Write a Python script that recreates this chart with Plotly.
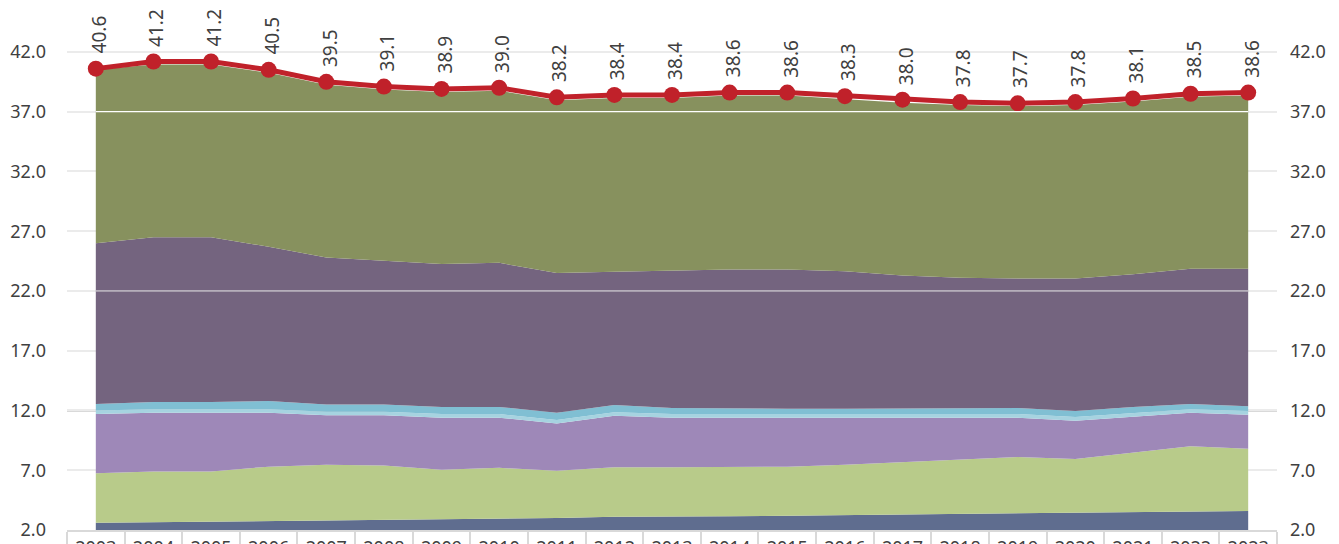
import plotly.graph_objects as go

years = list(range(2003, 2024))
total = [40.6, 41.2, 41.2, 40.5, 39.5, 39.1, 38.9, 39.0, 38.2, 38.4, 38.4,
         38.6, 38.6, 38.3, 38.0, 37.8, 37.7, 37.8, 38.1, 38.5, 38.6]

layer_navy = [2.6, 2.65, 2.7, 2.75, 2.75, 2.8, 2.85, 2.9, 3.0, 3.1, 3.1,
              3.15, 3.2, 3.25, 3.3, 3.35, 3.45, 3.45, 3.5, 3.55, 3.6]
layer_lightgreen = [4.15, 4.25, 4.2, 4.55, 4.7, 4.6, 4.2, 4.3, 3.95, 4.15, 4.15,
                    4.1, 4.1, 4.2, 4.35, 4.55, 4.65, 4.5, 4.95, 5.45, 5.2]
layer_lilac = [4.95, 4.9, 4.9, 4.5, 4.15, 4.2, 4.35, 4.2, 3.95, 4.3, 4.15,
               4.15, 4.1, 3.95, 3.75, 3.5, 3.3, 3.2, 3.05, 2.8, 2.85]
layer_paleblue = [0.3, 0.3, 0.3, 0.3, 0.3, 0.3, 0.3, 0.3, 0.3, 0.3, 0.3,
                  0.3, 0.3, 0.3, 0.3, 0.3, 0.3, 0.3, 0.3, 0.3, 0.3]
layer_cyan = [0.55, 0.6, 0.6, 0.7, 0.6, 0.6, 0.6, 0.6, 0.6, 0.6, 0.5,
              0.45, 0.45, 0.45, 0.45, 0.5, 0.5, 0.5, 0.5, 0.45, 0.4]
layer_plum = [13.45, 13.8, 13.8, 12.9, 12.3, 12.0, 11.95, 12.05, 11.7, 11.15, 11.5,
              11.65, 11.65, 11.5, 11.15, 10.9, 10.85, 11.1, 11.1, 11.3, 11.5]
layer_olive = [14.5, 14.45, 14.45, 14.55, 14.45, 14.35, 14.4, 14.4, 14.45, 14.55, 14.45,
               14.55, 14.55, 14.4, 14.45, 14.45, 14.4, 14.5, 14.45, 14.4, 14.5]

layers = [
    (layer_navy, "#5f6d8f"),
    (layer_lightgreen, "#b8cb8a"),
    (layer_lilac, "#9e88b8"),
    (layer_paleblue, "#a6d3e0"),
    (layer_cyan, "#80bfd3"),
    (layer_plum, "#74647f"),
    (layer_olive, "#87915e"),
]

y_ticks = [2, 7, 12, 17, 22, 27, 32, 37, 42]
y_range = [2, 44]
FONT = "Noto Sans"
TXT = "#404040"

fig = go.Figure()
for vals, col in layers:
    fig.add_trace(go.Scatter(
        x=years, y=vals, stackgroup="s", mode="lines",
        line=dict(width=0, color=col), fillcolor=col,
        hoverinfo="skip", showlegend=False))

fig.add_trace(go.Scatter(
    x=years, y=total, mode="lines+markers",
    line=dict(color="#c0212a", width=5),
    marker=dict(color="#c0212a", size=16),
    showlegend=False, cliponaxis=False))

# invisible trace to carry the right-hand axis
fig.add_trace(go.Scatter(x=[years[0]], y=[total[0]], yaxis="y2", mode="markers",
                         marker=dict(opacity=0), hoverinfo="skip", showlegend=False))

for x, v in zip(years, total):
    fig.add_annotation(x=x, y=v, text=f"{v:.1f}", textangle=-90, showarrow=False,
                       xanchor="center", yanchor="bottom", yshift=13, xshift=3,
                       font=dict(family=FONT, size=19, color=TXT))

x0, x1 = years[0] - 0.5, years[-1] + 0.5
shapes = [
    dict(type="line", xref="x", yref="y", x0=x0, x1=x1, y0=7, y1=7,
         line=dict(color="#404040", width=1.5), layer="below"),
    dict(type="line", xref="x", yref="y", x0=x0, x1=x1, y0=12, y1=12,
         line=dict(color="#d9d9d9", width=3), layer="below"),
    dict(type="line", xref="x", yref="y", x0=years[0], x1=years[-1], y0=37, y1=37,
         line=dict(color="#ffffff", width=1.2), layer="above"),
    dict(type="line", xref="x", yref="y", x0=years[0], x1=years[-1], y0=22, y1=22,
         line=dict(color="#e8e8e8", width=1), layer="above"),
]

# page body has an 8px default margin: size the figure so it ends at the window edge
fig.update_layout(
    width=1331, height=536,
    margin=dict(l=59, r=62, t=20, b=14),
    paper_bgcolor="white", plot_bgcolor="white",
    showlegend=False,
    font=dict(family=FONT, size=18, color=TXT),
    shapes=shapes,
    xaxis=dict(
        range=[x0, x1], tickvals=years, ticktext=[str(y) for y in years],
        showgrid=False, zeroline=False, ticks="",
        showline=True, linecolor="#d9d9d9", linewidth=2,
        minor=dict(tickvals=[y - 0.5 for y in years] + [years[-1] + 0.5],
                   ticks="outside", ticklen=30, tickcolor="#d9d9d9", tickwidth=2,
                   showgrid=False),
        tickfont=dict(family=FONT, size=18, color=TXT),
        automargin=False,
    ),
    yaxis=dict(
        range=y_range, tickvals=y_ticks, ticktext=[f"{t:.1f}" for t in y_ticks],
        showgrid=True, gridcolor="#ebebeb", gridwidth=1.5, zeroline=False,
        ticks="", ticklabelstandoff=20,
        tickfont=dict(family=FONT, size=18, color=TXT), automargin=False,
    ),
    yaxis2=dict(
        range=y_range, tickvals=y_ticks, ticktext=[f"{t:.1f}" for t in y_ticks],
        overlaying="y", side="right", showgrid=False, zeroline=False,
        ticks="", ticklabelstandoff=12,
        tickfont=dict(family=FONT, size=18, color=TXT), automargin=False,
    ),
)

fig.write_html("out.html")
